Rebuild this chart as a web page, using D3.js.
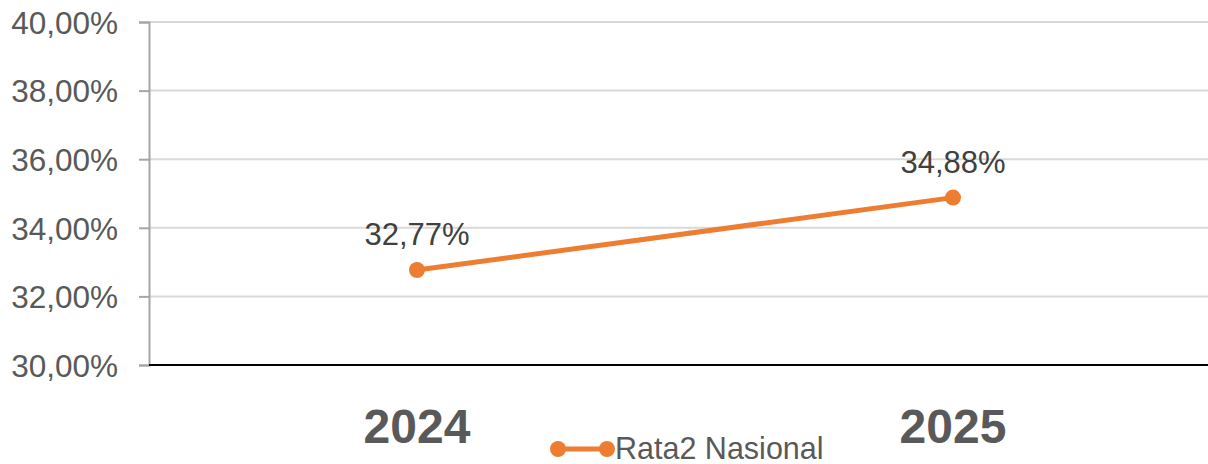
<!DOCTYPE html>
<html>
<head>
<meta charset="utf-8">
<script src="https://cdn.jsdelivr.net/npm/d3@7"></script>
<style>
  body { margin: 0; background: #fff; }
  text { font-family: "Liberation Sans", Arial, sans-serif; }
</style>
</head>
<body>
<div id="chart"></div>
<script>
// data
var years = ["2024", "2025"];
var values = [32.77, 34.88];
var labels = ["32,77%", "34,88%"];
var yTicks = [30, 32, 34, 36, 38, 40];
var seriesName = "Rata2 Nasional";

var W = 1208, H = 464;
var margin = {top: 22, right: 0, bottom: 99, left: 149};
var width = W - margin.left - margin.right,
    height = H - margin.top - margin.bottom;

var svg = d3.select("#chart")
  .append("svg")
    .attr("width", W)
    .attr("height", H)
  .append("g")
    .attr("transform", "translate(" + margin.left + "," + margin.top + ")");

var x = d3.scalePoint()
  .domain(years)
  .range([0, 1072])
  .padding(0.5);

var y = d3.scaleLinear()
  .domain([30, 40])
  .range([height, 0]);

// gridlines
svg.selectAll(".grid")
  .data(yTicks.slice(1))
  .enter().append("line")
    .attr("x1", 0)
    .attr("x2", width)
    .attr("y1", function(d) { return y(d); })
    .attr("y2", function(d) { return y(d); })
    .attr("stroke", "#d9d9d9")
    .attr("stroke-width", 2);

// y axis
var yAxis = svg.append("g")
  .call(d3.axisLeft(y).tickValues(yTicks).tickSize(10).tickPadding(21)
    .tickFormat(function(d) { return d3.format(".2f")(d).replace(".", ",") + "%"; }));
yAxis.select(".domain").attr("stroke", "#a6a6a6").attr("stroke-width", 2);
yAxis.selectAll(".tick line").attr("stroke", "#a6a6a6").attr("stroke-width", 2);
yAxis.selectAll(".tick text")
  .attr("fill", "#595959")
  .style("font-size", "31.5px")
  .attr("dy", "0.36em");

// baseline
svg.append("line")
  .attr("x1", 0).attr("x2", width)
  .attr("y1", y(30)).attr("y2", y(30))
  .attr("stroke", "#000").attr("stroke-width", 2);

// x labels
svg.selectAll(".xlab")
  .data(years)
  .enter().append("text")
    .attr("x", function(d) { return x(d); })
    .attr("y", height + 78)
    .attr("text-anchor", "middle")
    .attr("fill", "#595959")
    .style("font-size", "48px")
    .style("font-weight", "bold")
    .text(function(d) { return d; });

var pts = years.map(function(d, i) { return {year: d, v: values[i], label: labels[i]}; });

// line
svg.append("path")
  .datum(pts)
  .attr("fill", "none")
  .attr("stroke", "#ed7d31")
  .attr("stroke-width", 5)
  .attr("d", d3.line()
    .x(function(d) { return x(d.year); })
    .y(function(d) { return y(d.v); }));

svg.selectAll(".dot")
  .data(pts)
  .enter().append("circle")
    .attr("cx", function(d) { return x(d.year); })
    .attr("cy", function(d) { return y(d.v); })
    .attr("r", 8)
    .attr("fill", "#ed7d31");

svg.selectAll(".dlab")
  .data(pts)
  .enter().append("text")
    .attr("x", function(d) { return x(d.year); })
    .attr("y", function(d) { return y(d.v) - 25; })
    .attr("text-anchor", "middle")
    .attr("fill", "#404040")
    .style("font-size", "31px")
    .text(function(d) { return d.label; });

// legend
var leg = d3.select("svg").append("g").attr("transform", "translate(558,449)");
leg.append("line").attr("x1", 0).attr("x2", 49).attr("y1", 0).attr("y2", 0)
  .attr("stroke", "#ed7d31").attr("stroke-width", 5);
leg.selectAll("circle").data([0, 49]).enter().append("circle")
  .attr("cx", function(d) { return d; }).attr("cy", 0).attr("r", 8).attr("fill", "#ed7d31");
leg.append("text")
  .attr("x", 57).attr("y", 10)
  .attr("fill", "#595959")
  .style("font-size", "30.5px")
  .text(seriesName);
</script>
</body>
</html>
